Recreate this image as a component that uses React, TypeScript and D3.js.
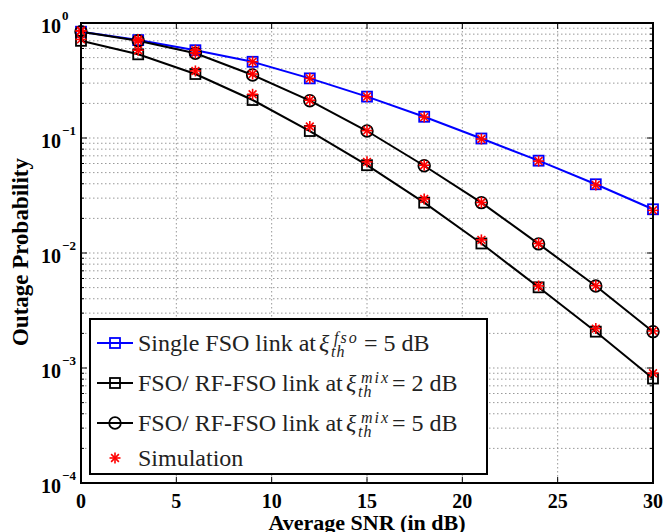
import React from 'react';
import * as d3 from 'd3';

const snrDb = [0, 3, 6, 9, 12, 15, 18, 21, 24, 27, 30];
const singleFso = [0.84, 0.71, 0.58, 0.46, 0.33, 0.229, 0.153, 0.099, 0.0635, 0.0396, 0.024];
const mix2 = [0.7, 0.534, 0.36, 0.214, 0.115, 0.058, 0.0274, 0.0121, 0.00503, 0.00207, 0.00081];
const mix5 = [0.84, 0.7, 0.545, 0.353, 0.211, 0.115, 0.0574, 0.0274, 0.012, 0.00516, 0.00207];
const simSingle = [0.85, 0.72, 0.58, 0.46, 0.33, 0.229, 0.152, 0.098, 0.063, 0.039, 0.0235];
const simMix2 = [0.72, 0.58, 0.383, 0.24, 0.126, 0.062, 0.0295, 0.013, 0.00517, 0.0022, 0.0009];
const simMix5 = [0.86, 0.7, 0.55, 0.36, 0.213, 0.116, 0.058, 0.0275, 0.0121, 0.0052, 0.0021];

const xTicks = [0, 5, 10, 15, 20, 25, 30];
const yDecades = [-4, -3, -2, -1, 0];
const xLabel = 'Average SNR (in dB)';
const yLabel = 'Outage Probability';

const W = 664;
const H = 532;
const M = { left: 81, right: 653, top: 23, bottom: 483 };
const SERIF = 'Liberation Serif, DejaVu Serif, serif';

const x = d3.scaleLinear().domain([0, 30]).range([M.left, M.right]);
const y = d3.scaleLog().domain([1e-4, 1]).range([M.bottom, M.top]);

const minorY: number[] = [];
for (let d = -4; d < 0; d++) for (let m = 2; m <= 9; m++) minorY.push(m * Math.pow(10, d));

function Star({ cx, cy, r = 5.5 }: { cx: number; cy: number; r?: number }) {
  const d = r * Math.SQRT1_2;
  return (
    <g stroke="#ff0000" strokeWidth={1.6}>
      <line x1={cx - r} y1={cy} x2={cx + r} y2={cy} />
      <line x1={cx} y1={cy - r} x2={cx} y2={cy + r} />
      <line x1={cx - d} y1={cy - d} x2={cx + d} y2={cy + d} />
      <line x1={cx - d} y1={cy + d} x2={cx + d} y2={cy - d} />
    </g>
  );
}

function Square({ cx, cy, color }: { cx: number; cy: number; color: string }) {
  return <rect x={cx - 5} y={cy - 5} width={10} height={10} fill="none" stroke={color} strokeWidth={1.8} />;
}

function Circle({ cx, cy }: { cx: number; cy: number }) {
  return <circle cx={cx} cy={cy} r={5.8} fill="none" stroke="#000" strokeWidth={1.8} />;
}

const serif = { fontFamily: SERIF };

export default function App() {
  const line = d3
    .line<number>()
    .x((_, i) => x(snrDb[i]))
    .y((v) => y(v));

  const legendRows = [
    { y: 351, color: '#0000ff', marker: 'square', main: 'Single FSO link at', sup: 'fso', xi: 319, eq: 364, rest: '= 5 dB' },
    { y: 391, color: '#000', marker: 'square', main: 'FSO/ RF-FSO link at', sup: 'mix', xi: 346, eq: 392, rest: '= 2 dB' },
    { y: 431, color: '#000', marker: 'circle', main: 'FSO/ RF-FSO link at', sup: 'mix', xi: 346, eq: 392, rest: '= 5 dB' },
  ];

  return (
    <svg
      width={W}
      height={H}
      style={{ position: 'absolute', left: 0, top: 0, background: '#fff', fontFamily: SERIF }}
    >
      <rect x={0} y={0} width={W} height={H} fill="#fff" />
      {/* grid */}
      <g stroke="#999" strokeWidth={1} strokeDasharray="1.5,2.5">
        {xTicks.slice(1, -1).map((t) => (
          <line key={'gx' + t} x1={x(t)} x2={x(t)} y1={M.top} y2={M.bottom} />
        ))}
        {yDecades.slice(1, -1).map((d) => (
          <line key={'gy' + d} x1={M.left} x2={M.right} y1={y(Math.pow(10, d))} y2={y(Math.pow(10, d))} />
        ))}
        {minorY.map((v) => (
          <line key={'gm' + v} x1={M.left} x2={M.right} y1={y(v)} y2={y(v)} />
        ))}
      </g>
      {/* ticks */}
      <g stroke="#000" strokeWidth={1}>
        {xTicks.map((t) => (
          <g key={'tx' + t}>
            <line x1={x(t)} x2={x(t)} y1={M.bottom} y2={M.bottom - 6} />
            <line x1={x(t)} x2={x(t)} y1={M.top} y2={M.top + 6} />
          </g>
        ))}
        {yDecades.map((d) => (
          <g key={'ty' + d}>
            <line x1={M.left} x2={M.left + 6} y1={y(Math.pow(10, d))} y2={y(Math.pow(10, d))} />
            <line x1={M.right} x2={M.right - 6} y1={y(Math.pow(10, d))} y2={y(Math.pow(10, d))} />
          </g>
        ))}
        {minorY.map((v) => (
          <g key={'tm' + v}>
            <line x1={M.left} x2={M.left + 3} y1={y(v)} y2={y(v)} />
            <line x1={M.right} x2={M.right - 3} y1={y(v)} y2={y(v)} />
          </g>
        ))}
      </g>
      {/* curves */}
      <path d={line(singleFso) || ''} fill="none" stroke="#0000ff" strokeWidth={2} />
      <path d={line(mix2) || ''} fill="none" stroke="#000" strokeWidth={2} />
      <path d={line(mix5) || ''} fill="none" stroke="#000" strokeWidth={2} />
      {singleFso.map((v, i) => (
        <Square key={'bs' + i} cx={x(snrDb[i])} cy={y(v)} color="#0000ff" />
      ))}
      {mix2.map((v, i) => (
        <Square key={'ks' + i} cx={x(snrDb[i])} cy={y(v)} color="#000" />
      ))}
      {mix5.map((v, i) => (
        <Circle key={'kc' + i} cx={x(snrDb[i])} cy={y(v)} />
      ))}
      {[simSingle, simMix2, simMix5].map((arr, k) =>
        arr.map((v, i) => <Star key={'st' + k + '-' + i} cx={x(snrDb[i])} cy={y(v)} />)
      )}
      {/* axes box */}
      <rect x={M.left} y={M.top} width={M.right - M.left} height={M.bottom - M.top} fill="none" stroke="#000" strokeWidth={2} />
      {/* tick labels */}
      <g fontWeight="bold" fill="#000" style={serif}>
        {xTicks.map((t) => (
          <text key={'lx' + t} x={x(t)} y={508} fontSize={20} textAnchor="middle" style={serif}>
            {t}
          </text>
        ))}
        {yDecades.map((d) => (
          <g key={'ly' + d}>
            <text x={61} y={y(Math.pow(10, d)) + 10} fontSize={20} textAnchor="end" style={serif}>
              10
            </text>
            <text x={62} y={y(Math.pow(10, d)) - 3} fontSize={13} style={serif}>
              {d === 0 ? '0' : '\u2212' + Math.abs(d)}
            </text>
          </g>
        ))}
        <text x={(M.left + M.right) / 2} y={530} fontSize={22} textAnchor="middle" style={serif}>
          {xLabel}
        </text>
        <text transform={`translate(28,${252}) rotate(-90)`} fontSize={23} textAnchor="middle" style={serif}>
          {yLabel}
        </text>
      </g>
      {/* legend */}
      <rect x={90} y={319} width={397} height={155} fill="#fff" stroke="#000" strokeWidth={2} />
      {legendRows.map((r, i) => (
        <g key={'lg' + i}>
          <line x1={97} x2={133} y1={r.y - 8} y2={r.y - 8} stroke={r.color} strokeWidth={2} />
          {r.marker === 'square' ? (
            <Square cx={115} cy={r.y - 8} color={r.color} />
          ) : (
            <Circle cx={115} cy={r.y - 8} />
          )}
          <text x={138} y={r.y} fontSize={24} fill="#222" style={serif}>
            {r.main}
          </text>
          <text x={r.xi} y={r.y} fontSize={24} fill="#222" fontStyle="italic" style={serif}>
            ξ
          </text>
          <text x={r.xi + 15} y={r.y - 8} fontSize={16} fontStyle="italic" fill="#222" letterSpacing={2} style={serif}>
            {r.sup}
          </text>
          <text x={r.xi + 12} y={r.y + 6} fontSize={16} fontStyle="italic" fill="#222" letterSpacing={1} style={serif}>
            th
          </text>
          <text x={r.eq} y={r.y} fontSize={24} fill="#222" style={serif}>
            {r.rest}
          </text>
        </g>
      ))}
      <Star cx={115} cy={458} />
      <text x={138} y={466} fontSize={24} fill="#222" style={serif}>
        Simulation
      </text>
    </svg>
  );
}
